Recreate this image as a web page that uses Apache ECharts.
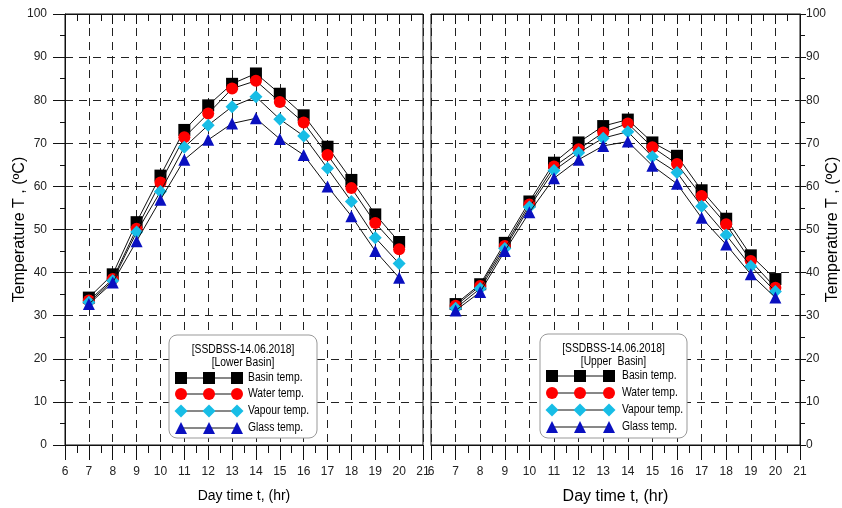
<!DOCTYPE html>
<html>
<head>
<meta charset="utf-8">
<script src="https://cdn.jsdelivr.net/npm/echarts@6/dist/echarts.min.js"></script>
<style>
  html, body { margin: 0; padding: 0; background: #fff; }
  #chart { width: 842px; height: 508px; }
</style>
</head>
<body>
<div id="chart"></div>
<script>
// day time (hr)
const hours = [7, 8, 9, 10, 11, 12, 13, 14, 15, 16, 17, 18, 19, 20];

// lower basin, temperatures (°C)
const lowerBasin  = [34.2, 39.6, 51.7, 62.5, 73.1, 78.8, 83.8, 86.2, 81.5, 76.5, 69.2, 61.5, 53.5, 47.1];
const lowerWater  = [33.5, 38.5, 50.2, 60.9, 71.4, 76.9, 82.7, 84.5, 79.6, 74.8, 67.3, 59.6, 51.5, 45.4];
const lowerVapour = [33.1, 38.1, 49.4, 58.8, 69.1, 74.2, 78.5, 80.8, 75.6, 71.7, 64.2, 56.5, 48.1, 42.1];
const lowerGlass  = [32.7, 37.7, 47.3, 56.9, 66.2, 70.8, 74.6, 75.8, 71.0, 67.3, 60.0, 53.1, 45.0, 38.8];

// upper basin, temperatures (°C)
const upperBasin  = [32.7, 37.3, 46.9, 56.5, 65.5, 70.2, 74.0, 75.5, 70.2, 67.1, 59.1, 52.5, 44.0, 38.5];
const upperWater  = [32.3, 36.9, 46.2, 55.8, 64.6, 68.6, 72.5, 74.6, 69.1, 65.2, 57.8, 51.2, 42.7, 36.5];
const upperVapour = [31.7, 36.3, 45.6, 55.2, 63.7, 67.8, 71.2, 72.7, 66.9, 63.2, 55.4, 48.7, 41.5, 35.6];
const upperGlass  = [31.2, 35.5, 45.0, 54.0, 61.9, 66.2, 69.4, 70.4, 64.8, 60.6, 52.7, 46.5, 39.6, 34.2];

const seriesNames = ['Basin temp.', 'Water temp.', 'Vapour temp.', 'Glass temp.'];
const legendTitle = '[SSDBSS-14.06.2018]';
const panelNames = ['[Lower Basin]', '[Upper  Basin]'];

const FONT = '"Liberation Sans", Arial, sans-serif';
const colors = ['#000000', '#ff0000', '#17bde6', '#0a10c0'];
const symbols = ['rect', 'circle', 'diamond', 'triangle'];

const chart = echarts.init(document.getElementById('chart'));

function pairs(vals) {
  return hours.map((h, i) => [h, vals[i]]);
}

function makeSeries(vals, k, gi) {
  return {
    name: seriesNames[k],
    type: 'line',
    xAxisIndex: gi * 2,
    yAxisIndex: gi,
    data: pairs(vals),
    symbol: symbols[k],
    symbolSize: k === 2 ? 13 : 12,
    showSymbol: true,
    lineStyle: { color: '#111', width: 1 },
    itemStyle: { color: colors[k], borderWidth: 0 },
    z: 2 + k,
    animation: false
  };
}

const dashed = { show: true, lineStyle: { color: '#222', type: [8, 6], width: 1 } };

function bottomX(gi) {
  return {
    type: 'value', gridIndex: gi, position: 'bottom',
    min: 6, max: 21, interval: 1,
    axisLine: { show: true, lineStyle: { color: '#111' } },
    axisTick: { show: true, inside: false, length: 15, lineStyle: { color: '#111' } },
    minorTick: { show: true, splitNumber: 2, length: 8, lineStyle: { color: '#111' } },
    axisLabel: { color: '#222', fontSize: 12, fontFamily: FONT, margin: 21 },
    splitLine: dashed,
    name: 'Day time t, (hr)',
    nameLocation: 'middle',
    nameGap: 44,
    nameMoveOverlap: false,
    nameTextStyle: { color: '#000', fontSize: gi === 0 ? 14 : 16, fontFamily: FONT }
  };
}

function topX(gi) {
  return {
    type: 'value', gridIndex: gi, position: 'top',
    min: 6, max: 21, interval: 1,
    axisLine: { show: true, lineStyle: { color: '#111' } },
    axisTick: { show: true, inside: true, length: 10, lineStyle: { color: '#111' } },
    minorTick: { show: true, splitNumber: 2, length: 7, lineStyle: { color: '#111' } },
    axisLabel: { show: false },
    splitLine: { show: false }
  };
}

function yAx(gi) {
  const left = gi === 0;
  return {
    type: 'value', gridIndex: gi, position: left ? 'left' : 'right',
    min: 0, max: 100, interval: 10,
    axisLine: { show: true, lineStyle: { color: '#111' } },
    axisTick: { show: true, inside: false, length: left ? 12 : 6, lineStyle: { color: '#111' } },
    minorTick: { show: true, splitNumber: 2, length: 5, lineStyle: { color: '#111' } },
    axisLabel: { color: '#222', fontSize: 12, fontFamily: FONT, margin: left ? 18 : 6 },
    splitLine: dashed,
    name: 'Temperature T , (\u00BAC)',
    nameLocation: 'middle',
    nameRotate: 90,
    nameGap: left ? 37 : 25,
    nameMoveOverlap: false,
    nameTextStyle: { color: '#000', fontSize: 16, fontFamily: FONT }
  };
}

// legend boxes drawn as graphics (three markers on a line per entry)
function legendText(x, y, text, align) {
  return {
    type: 'text', x: x, y: y, z: 21, scaleX: 0.86,
    style: { text: text, fill: '#000', font: '12px ' + FONT, align: align, verticalAlign: 'middle' }
  };
}

function legendBox(bx, by, bw, bh, sub, rows, mx, lx) {
  const els = [{
    type: 'rect',
    shape: { x: bx, y: by, width: bw, height: bh, r: 8 },
    style: { fill: '#fff', stroke: '#999', lineWidth: 1 },
    z: 20
  },
  legendText(bx + bw / 2, by + 15, legendTitle, 'center'),
  legendText(bx + bw / 2, by + 28, sub, 'center')];
  rows.forEach((ry, k) => {
    els.push({
      type: 'line', z: 21,
      shape: { x1: mx[0], y1: ry, x2: mx[2], y2: ry },
      style: { stroke: '#111', lineWidth: 1 }
    });
    mx.forEach(cx => {
      let el;
      if (k === 0) el = { type: 'rect', shape: { x: cx - 6, y: ry - 6, width: 12, height: 12 } };
      else if (k === 1) el = { type: 'circle', shape: { cx: cx, cy: ry, r: 6 } };
      else if (k === 2) el = { type: 'polygon', shape: { points: [[cx, ry - 6.5], [cx + 6.5, ry], [cx, ry + 6.5], [cx - 6.5, ry]] } };
      else el = { type: 'polygon', shape: { points: [[cx, ry - 6], [cx + 6, ry + 6], [cx - 6, ry + 6]] } };
      el.style = { fill: colors[k] };
      el.z = 22;
      els.push(el);
    });
    els.push(legendText(lx, ry, seriesNames[k], 'left'));
  });
  return els;
}

const graphics = [].concat(
  legendBox(169, 335, 148, 103, panelNames[0], [378, 394, 411, 428], [181, 209, 237], 248),
  legendBox(540, 334, 147, 104, panelNames[1], [376, 393, 410, 427], [552, 580, 609], 622)
);

chart.setOption({
  backgroundColor: '#fff',
  animation: false,
  grid: [
    { left: 65, top: 14, width: 358, height: 431, show: true, borderColor: '#111', borderWidth: 1,
      backgroundColor: 'transparent', outerBoundsMode: 'none', containLabel: false },
    { left: 431, top: 14, width: 369, height: 431, show: true, borderColor: '#111', borderWidth: 1,
      backgroundColor: 'transparent', outerBoundsMode: 'none', containLabel: false }
  ],
  xAxis: [bottomX(0), topX(0), bottomX(1), topX(1)],
  yAxis: [yAx(0), yAx(1)],
  series: [
    makeSeries(lowerBasin, 0, 0),
    makeSeries(lowerWater, 1, 0),
    makeSeries(lowerVapour, 2, 0),
    makeSeries(lowerGlass, 3, 0),
    makeSeries(upperBasin, 0, 1),
    makeSeries(upperWater, 1, 1),
    makeSeries(upperVapour, 2, 1),
    makeSeries(upperGlass, 3, 1)
  ],
  graphic: graphics
});
</script>
</body>
</html>
